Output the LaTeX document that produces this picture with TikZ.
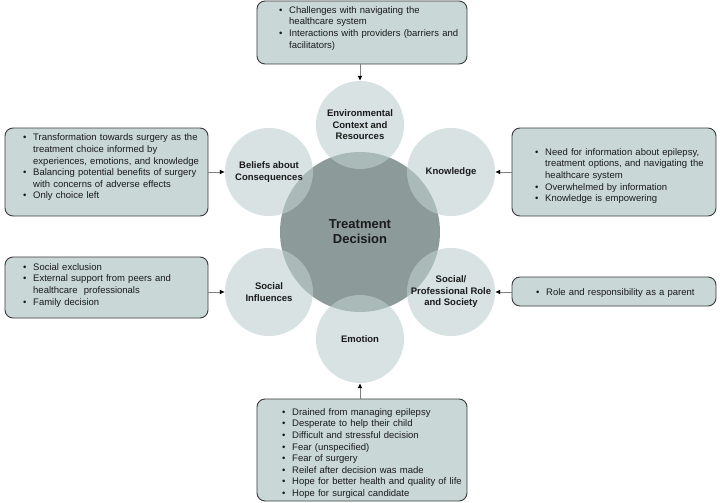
\documentclass[tikz,border=0pt]{standalone}
\usepackage{fontspec}
\setmainfont{Liberation Sans}
\usepackage{enumitem}
\usetikzlibrary{arrows.meta}
\definecolor{kern}{HTML}{8C9B9A}
\definecolor{feld}{HTML}{BECFCF}
\definecolor{kasten}{HTML}{C9D8D7}
\definecolor{rand}{HTML}{3A3A3A}
\definecolor{pfeilgrau}{HTML}{7F7F7F}
\definecolor{schrift}{HTML}{1A1A1A}
\setlist[itemize]{label=\textbullet,leftmargin=10pt,labelsep=6.5pt,labelwidth=3.5pt,align=left,itemsep=0pt,parsep=0pt,topsep=0pt,partopsep=0pt}
\tikzset{
  kernkreis/.style={circle,fill=kern,minimum size=160pt,inner sep=0pt,text=schrift,align=center,font=\bfseries\fontsize{13}{15}\selectfont},
  feldkreis/.style={circle,fill=feld,fill opacity=0.6,text opacity=1,minimum size=88pt,inner sep=0pt,text=schrift,align=center,font=\bfseries\fontsize{9.5}{11.5}\selectfont},
  infokasten/.style={draw=rand,fill=kasten,line width=0.9pt,rounded corners=8pt,inner sep=0pt},
  liste/.style={anchor=north west,inner sep=0pt,text width=#1,align=left,text=schrift,font=\fontsize{9.5}{11.6}\selectfont},
  pfeil/.style={-{Latex[length=5pt,width=5pt,color=black]},pfeilgrau,line width=1pt},
}

\begin{document}
\begin{tikzpicture}[x=1pt,y=-1pt]
  \useasboundingbox (0,0) rectangle (720,503);
  % centre and the six domains
  \node[kernkreis] (td) at (360,232) {Treatment\\Decision};
  \node[feldkreis] (env) at (360,125) {Environmental\\Context and\\Resources};
  \node[feldkreis] (know) at (451,172) {Knowledge};
  \node[feldkreis] (role) at (451,292) {Social/\\Professional Role\\and Society};
  \node[feldkreis] (emo) at (360,339) {Emotion};
  \node[feldkreis] (soc) at (269,292) {Social\\Influences};
  \node[feldkreis] (bel) at (269,172) {Beliefs about\\Consequences};
  % boxes
  \node[infokasten,minimum width=210pt,minimum height=63pt] (envbox) at (362,32.5) {};
  \node[infokasten,minimum width=203pt,minimum height=88pt] (belbox) at (106.5,172) {};
  \node[infokasten,minimum width=204pt,minimum height=88pt] (knowbox) at (614,172) {};
  \node[infokasten,minimum width=203pt,minimum height=61pt] (socbox) at (106.5,287.5) {};
  \node[infokasten,minimum width=204pt,minimum height=29pt] (rolebox) at (614,291.5) {};
  \node[infokasten,minimum width=210pt,minimum height=102pt] (emobox) at (362,450) {};
  % box texts
  \node[liste=185pt] at (279,1.5) {\begin{itemize}
    \item Challenges with navigating the\\healthcare system
    \item Interactions with providers (barriers and\\facilitators)
  \end{itemize}};
  \node[liste=185pt] at (23,129) {\begin{itemize}
    \item Transformation towards surgery as the\\treatment choice informed by\\experiences, emotions, and knowledge
    \item Balancing potential benefits of surgery\\with concerns of adverse effects
    \item Only choice left
  \end{itemize}};
  \node[liste=180pt] at (535,143.5) {\begin{itemize}
    \item Need for information about epilepsy,\\treatment options, and navigating the\\healthcare system
    \item Overwhelmed by information
    \item Knowledge is empowering
  \end{itemize}};
  \node[liste=185pt] at (23,258.5) {\begin{itemize}
    \item Social exclusion
    \item External support from peers and\\healthcare\ \ professionals
    \item Family decision
  \end{itemize}};
  \node[liste=180pt] at (536,284) {\begin{itemize}
    \item Role and responsibility as a parent
  \end{itemize}};
  \node[liste=185pt] at (282,403.5) {\begin{itemize}
    \item Drained from managing epilepsy
    \item Desperate to help their child
    \item Difficult and stressful decision
    \item Fear (unspecified)
    \item Fear of surgery
    \item Reilef after decision was made
    \item Hope for better health and quality of life
    \item Hope for surgical candidate
  \end{itemize}};
  % connectors
  \draw[pfeil] (envbox.south -| env) -- (env.north);
  \draw[pfeil] (emobox.north -| emo) -- (emo.south);
  \draw[pfeil] (belbox.east |- bel) -- (bel.west);
  \draw[pfeil] (knowbox.west |- know) -- (know.east);
  \draw[pfeil] (socbox.east |- soc) -- (soc.west);
  \draw[pfeil] (rolebox.west |- role) -- (role.east);
\end{tikzpicture}
\end{document}
